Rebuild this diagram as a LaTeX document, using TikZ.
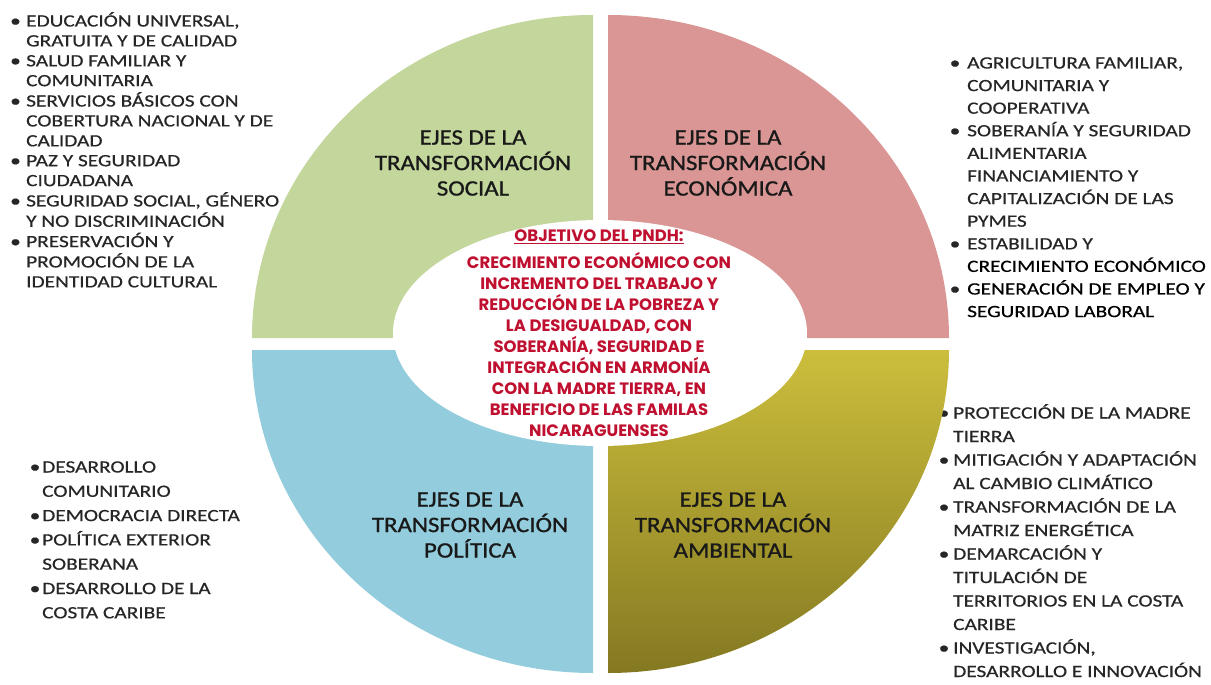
\documentclass[tikz,border=0pt]{standalone}
\usepackage{fontspec}
\setmainfont{Carlito}
\newfontfamily\listfont[FakeStretch=1.24,FakeBold=0.5]{Carlito}
\newfontfamily\ejefont[FakeStretch=1.13,FakeBold=1]{Carlito}
\newfontfamily\objfont{Poppins}
\usepackage{tikz}
\usetikzlibrary{positioning}

\definecolor{verde}{RGB}{195,214,155}
\definecolor{rosa}{RGB}{217,150,148}
\definecolor{celeste}{RGB}{147,205,221}
\definecolor{oliva1}{RGB}{204,190,60}
\definecolor{oliva2}{RGB}{132,121,34}
\definecolor{rojo}{RGB}{192,16,48}
\definecolor{tinta}{RGB}{38,38,38}

\newcommand{\listsize}[1]{\fontsize{17.2}{#1}\selectfont}

\begin{document}
\begin{tikzpicture}[x=1pt,y=-1pt,
    lista/.style={inner sep=0, anchor=base west, text=tinta, font=\listfont\listsize{#1}},
    lista/.default=20,
    eje/.style={inner sep=0, align=center, text=black!90, font=\ejefont\fontsize{22}{25.5}\selectfont},
    quad/.style={draw=none}]
		\fill[white] (0,0) rectangle (1211,685);
		\useasboundingbox (0,0) rectangle (1211,685);

		% listas (debajo de los cuadrantes)
		\node[lista=19.9] (social-lista) at (10,26.5) {\begin{tabular}[t]{@{}p{16pt}@{}l@{}}
			• & EDUCACIÓN UNIVERSAL,\\
			  & GRATUITA Y DE CALIDAD\\
			• & SALUD FAMILIAR Y\\
			  & COMUNITARIA\\
			• & SERVICIOS BÁSICOS CON\\
			  & COBERTURA NACIONAL Y DE\\
			  & CALIDAD\\
			• & PAZ Y SEGURIDAD\\
			  & CIUDADANA\\
			• & SEGURIDAD SOCIAL, GÉNERO\\
			  & Y NO DISCRIMINACIÓN\\
			• & PRESERVACIÓN Y\\
			  & PROMOCIÓN DE LA\\
			  & IDENTIDAD CULTURAL
		\end{tabular}};

		\node[lista=22.6] (economica-lista) at (949.5,68.5) {\begin{tabular}[t]{@{}p{17.5pt}@{}l@{}}
			• & AGRICULTURA FAMILIAR,\\
			  & COMUNITARIA Y\\
			  & COOPERATIVA\\
			• & SOBERANÍA Y SEGURIDAD\\
			  & ALIMENTARIA\\
			  & FINANCIAMIENTO Y\\
			  & CAPITALIZACIÓN DE LAS\\
			  & PYMES\\
			• & ESTABILIDAD Y\\
			  & \textcolor{black}{CRECIMIENTO ECONÓMICO}\\
			• & \textcolor{black}{GENERACIÓN DE EMPLEO Y}\\
			  & \textcolor{black}{SEGURIDAD LABORAL}
		\end{tabular}};

		\node[lista=24.3] (politica-lista) at (29.5,472.5) {\begin{tabular}[t]{@{}p{12.5pt}@{}l@{}}
			• & DESARROLLO\\
			  & COMUNITARIO\\
			• & DEMOCRACIA DIRECTA\\
			• & POLÍTICA EXTERIOR\\
			  & SOBERANA\\
			• & DESARROLLO DE LA\\
			  & COSTA CARIBE
		\end{tabular}};

		\node[lista=23.5] (ambiental-lista) at (938.5,418.5) {\begin{tabular}[t]{@{}p{14.5pt}@{}l@{}}
			• & PROTECCIÓN DE LA MADRE\\
			  & TIERRA\\
			• & MITIGACIÓN Y ADAPTACIÓN\\
			  & AL CAMBIO CLIMÁTICO\\
			• & TRANSFORMACIÓN DE LA\\
			  & MATRIZ ENERGÉTICA\\
			• & DEMARCACIÓN Y\\
			  & TITULACIÓN DE\\
			  & TERRITORIOS EN LA COSTA\\
			  & CARIBE\\
			• & INVESTIGACIÓN,\\
			  & DESARROLLO E INNOVACIÓN
		\end{tabular}};

		% cuadrantes
		\fill[verde] (593,338) -- ++(-341,0) arc[start angle=180, end angle=90, x radius=341pt, y radius=323pt] -- cycle;
		\fill[rosa] (608,338) -- ++(341,0) arc[start angle=0, end angle=90, x radius=341pt, y radius=323pt] -- cycle;
		\fill[celeste] (593,350) -- ++(-341,0) arc[start angle=180, end angle=270, x radius=341pt, y radius=323pt] -- cycle;
		\shade[top color=oliva1, bottom color=oliva2] (608,350) -- ++(341,0) arc[start angle=0, end angle=-90, x radius=341pt, y radius=323pt] -- cycle;

		\fill[white] (600,333) ellipse [x radius=207pt, y radius=113pt];

		\node[eje] (social) at (473,163) {EJES DE LA\\TRANSFORMACIÓN\\SOCIAL};
		\node[eje] (economica) at (728,163) {EJES DE LA\\TRANSFORMACIÓN\\ECONÓMICA};
		\node[eje] (politica) at (470,525) {EJES DE LA\\TRANSFORMACIÓN\\POLÍTICA};
		\node[eje] (ambiental) at (733,525) {EJES DE LA\\TRANSFORMACIÓN\\AMBIENTAL};

		\node[inner sep=0, align=center, text=rojo, font=\objfont\bfseries\fontsize{16.5}{21}\selectfont] (objetivo) at (599,333)
			{\underline{OBJETIVO DEL PNDH:}\\[6pt]
			CRECIMIENTO ECONÓMICO CON\\
			INCREMENTO DEL TRABAJO Y\\
			REDUCCIÓN DE LA POBREZA Y\\
			LA DESIGUALDAD, CON\\
			SOBERANÍA, SEGURIDAD E\\
			INTEGRACIÓN EN ARMONÍA\\
			CON LA MADRE TIERRA, EN\\
			BENEFICIO DE LAS FAMILAS\\
			NICARAGUENSES};
	\end{tikzpicture}
\end{document}
